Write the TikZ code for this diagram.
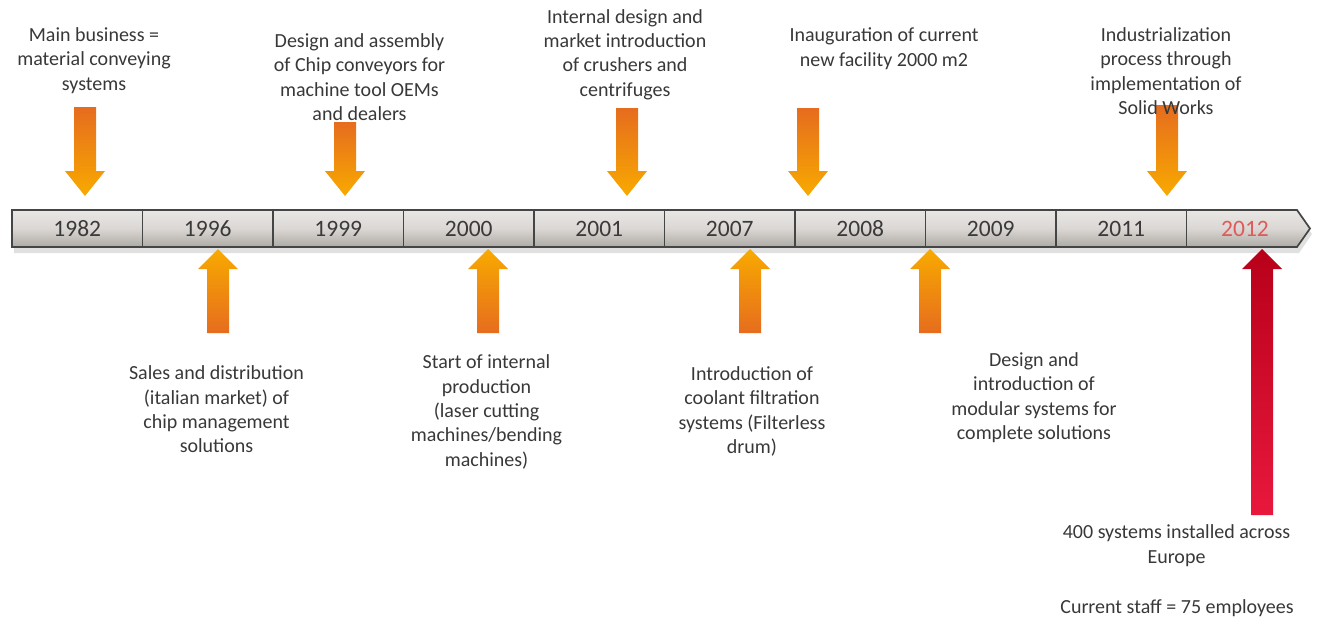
\documentclass[tikz,border=0pt]{standalone}
\usepackage{fontspec}
\setmainfont{Carlito}
\usetikzlibrary{calc}
\definecolor{txtgray}{HTML}{383838}
\definecolor{yeargray}{HTML}{3A3A3A}
\definecolor{yearred}{HTML}{E05A5A}
\definecolor{orA}{HTML}{E66C1E}
\definecolor{orB}{HTML}{F8AA00}
\definecolor{rdA}{HTML}{B8001A}
\definecolor{rdB}{HTML}{E8183C}
\definecolor{barTop}{HTML}{E9E7E5}
\definecolor{barMid}{HTML}{DAD7D4}
\definecolor{barBot}{HTML}{AEAAA6}
\definecolor{barLine}{HTML}{454545}
\tikzset{
  txt/.style={font=\fontsize{20}{24.4}\selectfont, text=txtgray, align=center, inner sep=0pt},
  yr/.style={font=\fontsize{23.5}{27}\selectfont, text=yeargray, inner sep=0pt},
  dnfill/.style={top color=orA, bottom color=orB},
  upfill/.style={top color=orB, bottom color=orA},
  redfill/.style={top color=rdA, bottom color=rdB},
}
\newcommand{\dnarrow}[2]{%
  \path[dnfill] let \p1=(#1), \p2=(#2) in
    (\x1-11pt,\y1) -- (\x1+11pt,\y1) -- (\x1+11pt,\y2+25pt) -- (\x1+20pt,\y2+25pt)
    -- (\x1,\y2) -- (\x1-20pt,\y2+25pt) -- (\x1-11pt,\y2+25pt) -- cycle;}
\newcommand{\uparrowshape}[3]{%
  \path[#3] let \p1=(#1), \p2=(#2) in
    (\x1-11pt,\y1) -- (\x1+11pt,\y1) -- (\x1+11pt,\y2-20pt) -- (\x1+20pt,\y2-20pt)
    -- (\x1,\y2) -- (\x1-20pt,\y2-20pt) -- (\x1-11pt,\y2-20pt) -- cycle;}
\begin{document}
\begin{tikzpicture}[x=1pt,y=-1pt]
\useasboundingbox (0,0) rectangle (1321,619);

% ---- timeline bar ----
\fill[black!20, opacity=0.6] (14,216) -- (1299,216) -- (1312,234) -- (1299,253) -- (14,253) -- cycle;
\path[top color=barTop, bottom color=barBot, middle color=barMid, draw=barLine, line width=1.7pt]
  (12,210) -- (1297,210) -- (1310,228.5) -- (1297,247) -- (12,247) -- cycle;
\foreach \bx in {142.5,273,403.5,534,664.5,795,925.5,1056,1186.5}
  \draw[barLine, line width=1.7pt] (\bx,210) -- (\bx,247);

\node[yr] (y1982) at (77.25,228.5) {1982};
\node[yr] (y1996) at (207.75,228.5) {1996};
\node[yr] (y1999) at (338.25,228.5) {1999};
\node[yr] (y2000) at (468.75,228.5) {2000};
\node[yr] (y2001) at (599.25,228.5) {2001};
\node[yr] (y2007) at (729.75,228.5) {2007};
\node[yr] (y2008) at (860.25,228.5) {2008};
\node[yr] (y2009) at (990.75,228.5) {2009};
\node[yr] (y2011) at (1121.25,228.5) {2011};
\node[yr, text=yearred] (y2012) at (1245,228.5) {2012};

% ---- arrow coordinates ----
\coordinate (a1s) at (85,107);   \coordinate (a1e) at (85,196);
\coordinate (a2s) at (345,122);  \coordinate (a2e) at (345,196);
\coordinate (a3s) at (627,108);  \coordinate (a3e) at (627,196);
\coordinate (a4s) at (808,108);  \coordinate (a4e) at (808,196);
\coordinate (a5s) at (1167,105); \coordinate (a5e) at (1167,196);
\coordinate (b1s) at (218,333);  \coordinate (b1e) at (218,249);
\coordinate (b2s) at (488,333);  \coordinate (b2e) at (488,249);
\coordinate (b3s) at (750,333);  \coordinate (b3e) at (750,249);
\coordinate (b4s) at (930,333);  \coordinate (b4e) at (930,249);
\coordinate (b5s) at (1262,515); \coordinate (b5e) at (1262,249);

\dnarrow{a1s}{a1e}
\dnarrow{a2s}{a2e}
\dnarrow{a3s}{a3e}
\dnarrow{a4s}{a4e}
\dnarrow{a5s}{a5e}
\uparrowshape{b1s}{b1e}{upfill}
\uparrowshape{b2s}{b2e}{upfill}
\uparrowshape{b3s}{b3e}{upfill}
\uparrowshape{b4s}{b4e}{upfill}
\uparrowshape{b5s}{b5e}{redfill}

% ---- texts above ----
\node[txt] (t1) at (94,60.5) {Main business =\\material conveying\\systems};
\node[txt] (t2) at (359.5,77) {Design and assembly\\of Chip conveyors for\\machine tool OEMs\\and dealers};
\node[txt] (t3) at (625,54.5) {Internal design and\\market introduction\\of crushers and\\centrifuges};
\node[txt] (t4) at (884,48.5) {Inauguration of current\\new facility 2000 m2};
\node[txt] (t5) at (1166,71) {Industrialization\\process through\\implementation of\\Solid Works};

% ---- texts below ----
\node[txt] (t6) at (216.5,409.5) {Sales and distribution\\(italian market) of\\chip management\\solutions};
\node[txt] (t7) at (486.5,412) {Start of internal\\production\\(laser cutting\\machines/bending\\machines)};
\node[txt] (t8) at (752,411.5) {Introduction of\\coolant filtration\\systems (Filterless\\drum)};
\node[txt] (t9) at (1034,397.5) {Design and\\introduction of\\modular systems for\\complete solutions};
\node[txt] (t10) at (1176.5,545.5) {400 systems installed across\\Europe};
\node[txt] (t11) at (1177,608) {Current staff = 75 employees};
\end{tikzpicture}
\end{document}
